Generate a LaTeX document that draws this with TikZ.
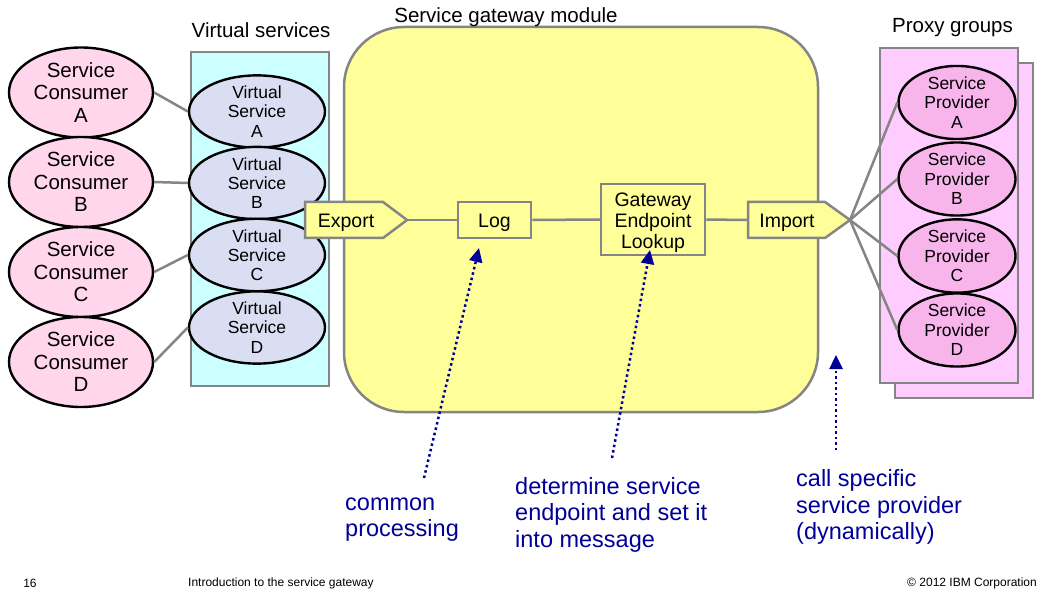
\documentclass[tikz,border=0pt]{standalone}
\usepackage{fontspec}
\setmainfont{Liberation Sans}
\usetikzlibrary{shapes.geometric,arrows.meta}
\definecolor{gborder}{HTML}{858585}
\definecolor{consfill}{HTML}{FFD6EC}
\definecolor{vsfill}{HTML}{D9DEF2}
\definecolor{provfill}{HTML}{F7B5EC}
\definecolor{vsbox}{HTML}{CCFFFF}
\definecolor{proxybox}{HTML}{FFCCFF}
\definecolor{gwfill}{HTML}{FFFF99}
\definecolor{notecol}{HTML}{000099}
\tikzset{
  consumer/.style={ellipse,draw=black,line width=2.4pt,fill=consfill,minimum width=144pt,minimum height=90pt,inner sep=0pt,align=center,font=\fontsize{20.5}{22.5}\selectfont},
  vservice/.style={ellipse,draw=black,line width=2.4pt,fill=vsfill,minimum width=136pt,minimum height=72pt,inner sep=0pt,align=center,font=\fontsize{17.5}{19.2}\selectfont},
  provider/.style={ellipse,draw=black,line width=2.4pt,fill=provfill,minimum width=117pt,minimum height=72pt,inner sep=0pt,align=center,font=\fontsize{17.5}{19.5}\selectfont},
  link/.style={draw=gborder,line width=2.5pt},
  groupbox/.style={draw=gborder,line width=2.5pt},
  procbox/.style={rectangle,draw=gborder,line width=2.5pt,fill=gwfill,inner sep=0pt},
  proctext/.style={inner sep=0pt,align=center,font=\fontsize{19.5}{21}\selectfont},
  pentagon/.style={draw=gborder,line width=2.5pt,fill=gwfill,line join=miter},
  title/.style={inner sep=0pt,anchor=base,font=\fontsize{20.5}{22.5}\selectfont},
  notetext/.style={text=notecol,anchor=west,align=left,inner sep=0pt,font=\fontsize{23.5}{26.5}\selectfont},
  notearrow/.style={draw=notecol,line width=2.5pt,dash pattern=on 2.5pt off 3pt,-{Triangle[length=14pt,width=13pt]}},
  footer/.style={inner sep=0pt,font=\fontsize{12}{14}\selectfont}
}
\begin{document}
\begin{tikzpicture}[x=1pt,y=-1pt]
\useasboundingbox (0,0) rectangle (1056,601);
\fill[white] (0,0) rectangle (1056,601);

% group boxes
\draw[groupbox,fill=vsbox] (191,52) rectangle (329,386);
\draw[groupbox,fill=proxybox] (895,63) rectangle (1033,398);
\draw[groupbox,fill=proxybox] (880,48) rectangle (1018,383);
\draw[groupbox,fill=gwfill,rounded corners=60pt] (344,27) rectangle (818,412);

% titles
\node[title] (tvs) at (261,38) {Virtual services};
\node[title] (tgw) at (506,23) {Service gateway module};
\node[title] (tpg) at (952.5,33) {Proxy groups};

% consumers
\node[consumer] (ca) at (81,92.5) {Service\\Consumer\\A};
\node[consumer] (cb) at (81,182) {Service\\Consumer\\B};
\node[consumer] (cc) at (81,272) {Service\\Consumer\\C};
\node[consumer] (cd) at (81,362) {Service\\Consumer\\D};

% virtual services
\node[vservice] (va) at (257,111.5) {Virtual\\Service\\A};
\node[vservice] (vb) at (257,183) {Virtual\\Service\\B};
\node[vservice] (vc) at (257,255) {Virtual\\Service\\C};
\node[vservice] (vd) at (257,327.5) {Virtual\\Service\\D};

% providers
\node[provider] (pa) at (957,102.5) {Service\\Provider\\A};
\node[provider] (pb) at (957,179) {Service\\Provider\\B};
\node[provider] (pc) at (957,256) {Service\\Provider\\C};
\node[provider] (pd) at (957,330) {Service\\Provider\\D};

% consumer -> virtual service links
\draw[link] (ca.east) -- (va.west);
\draw[link] (cb.east) -- (vb.west);
\draw[link] (cc.east) -- (vc.west);
\draw[link] (cd.east) -- (vd.west);

% export / import pentagons
\draw[pentagon] (305,202) -- (383,202) -- (407,220) -- (383,238) -- (305,238) -- cycle;
\node[proctext] (export) at (346,223) {Export};
\coordinate (exporttip) at (407,220);
\draw[pentagon] (748,202) -- (825,202) -- (850,220) -- (825,238) -- (748,238) -- cycle;
\node[proctext] (import) at (787,223) {Import};
\coordinate (importw) at (748,220);
\coordinate (importtip) at (850,220);

% processing boxes
\node[procbox,minimum width=73pt,minimum height=36pt] (log) at (494.5,220) {};
\node[proctext] (logtext) at (494.5,223) {Log};
\node[procbox,minimum width=104pt,minimum height=71pt] (gw) at (653,219.5) {};
\node[proctext] (gwtext) at (653,222.5) {Gateway\\Endpoint\\Lookup};

\draw[link] (exporttip) -- (log.west);
\draw[link] (log.east) -- (gw.west);
\draw[link] (gw.east) -- (importw);

% import -> providers
\draw[link] (importtip) -- (pa.west);
\draw[link] (importtip) -- (pb.west);
\draw[link] (importtip) -- (pc.west);
\draw[link] (importtip) -- (pd.west);

% notes
\node[notetext] (n1) at (345,519.5) {common\\processing};
\node[notetext] (n2) at (515,514.5) {determine service\\endpoint and set it\\into message};
\node[notetext] (n3) at (796,507) {call specific\\service provider\\(dynamically)};

\coordinate (a1s) at (424,478);
\coordinate (a1e) at (479,248);
\coordinate (a2s) at (612,458);
\coordinate (a2e) at (650,250);
\coordinate (a3s) at (836,450);
\coordinate (a3e) at (836,355);
\draw[notearrow] (a1s) -- (a1e);
\draw[notearrow] (a2s) -- (a2e);
\draw[notearrow] (a3s) -- (a3e);

% footer
\node[footer] (f1) at (30,583) {16};
\node[footer,anchor=west] (f2) at (188,583) {Introduction to the service gateway};
\node[footer,anchor=east] (f3) at (1037,583) {© 2012 IBM Corporation};
\end{tikzpicture}
\end{document}
